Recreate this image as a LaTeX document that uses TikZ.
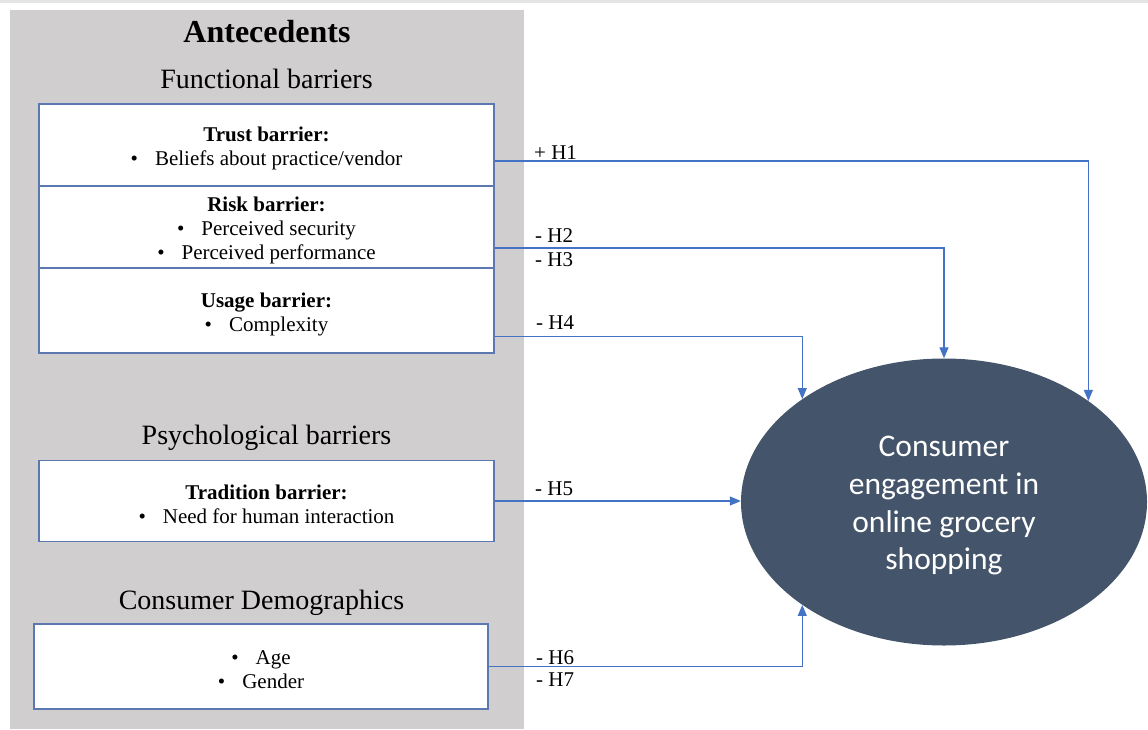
\documentclass[tikz,border=0pt]{standalone}
\usepackage{fontspec}
\setmainfont{Liberation Serif}
\newfontfamily\calibrifont{Carlito}
\usetikzlibrary{arrows.meta}
\usetikzlibrary{shapes.geometric}
\usetikzlibrary{positioning}
\definecolor{panelGray}{HTML}{D0CECE}
\definecolor{stripGray}{HTML}{E4E4E4}
\definecolor{boxBlue}{HTML}{5B79B0}
\definecolor{arrowBlue}{HTML}{4472C4}
\definecolor{slateBlue}{HTML}{44546A}
\newcommand{\bpoint}[1]{\textbullet\hspace{17pt}#1}
\newcommand{\bhead}[1]{\rule{0pt}{22pt}\textbf{#1}}
\tikzset{
  barrier/.style={draw=boxBlue, line width=1.3pt, fill=white, minimum width=455pt, inner sep=0pt, align=center,
                  font=\fontsize{21}{24}\selectfont},
  heading/.style={anchor=base, inner sep=0pt, font=\fontsize{28}{32}\selectfont},
  hyp/.style={draw=arrowBlue, line width=1.2pt, -{Triangle[length=11pt,width=9pt]}},
  hlabel/.style={anchor=base west, inner sep=0pt, font=\fontsize{21}{24}\selectfont},
}

\begin{document}
\begin{tikzpicture}[x=1pt,y=-1pt]
    \useasboundingbox (0,0) rectangle (1148,729);
    \fill[stripGray] (0,0) rectangle (1148,2.5);
    \fill[panelGray] (10,10) rectangle (523.5,729);
    % antecedents
    \node[heading, font=\fontsize{32}{36}\selectfont\bfseries] (ante) at (267,42.7) {Antecedents};
    \node[heading] (func) at (266.5,88.3) {Functional barriers};
    \node[barrier, minimum height=82pt] (trust) at (266.5,145) {\bhead{Trust barrier:}\\ \bpoint{Beliefs about practice/vendor}};
    \node[barrier, minimum height=82pt] (risk) at (266.5,227) {\bhead{Risk barrier:}\\ \bpoint{Perceived security}\\ \bpoint{Perceived performance}};
    \node[barrier, minimum height=85pt] (usage) at (266.5,310.5) {\bhead{Usage barrier:}\\ \bpoint{Complexity}};
    \node[heading] (psych) at (266.5,444) {Psychological barriers};
    \node[barrier, minimum height=81.5pt] (trad) at (266.5,501) {\bhead{Tradition barrier:}\\ \bpoint{Need for human interaction}};
    \node[heading] (demo) at (261.5,609) {Consumer Demographics};
    \node[barrier, minimum width=454pt, minimum height=85pt] (demog) at (261,666.5) {\rule{0pt}{20pt}\bpoint{Age}\\ \bpoint{Gender}};
    % outcome
    \node[ellipse, fill=slateBlue, minimum width=406pt, minimum height=287pt, inner sep=0pt, text=white, align=center,
          font=\calibrifont\fontsize{31.5}{37.7}\selectfont] (eng) at (944,502) {\rule{0pt}{28pt}Consumer\\ engagement in\\ online grocery\\ shopping};
    % hypotheses
    \draw[hyp] ([yshift=-16pt]trust.east) -| (eng.35);
    \node[hlabel] (h1) at (534,159.3) {+ H1};
    \draw[hyp] ([yshift=-21pt]risk.east) -| (eng.north);
    \node[hlabel] (h2) at (535,242.3) {- H2};
    \node[hlabel] (h3) at (535,266.7) {- H3};
    \draw[hyp] ([yshift=-26pt]usage.east) -| (eng.144);
    \node[hlabel] (h4) at (536,329) {- H4};
    \draw[hyp] (trad.east) -- (trad.east -| eng.west);
    \node[hlabel] (h5) at (535,495.7) {- H5};
    \draw[hyp] (demog.east) -| (eng.216);
    \node[hlabel] (h6) at (536,664) {- H6};
    \node[hlabel] (h7) at (536,686.7) {- H7};
\end{tikzpicture}
\end{document}
